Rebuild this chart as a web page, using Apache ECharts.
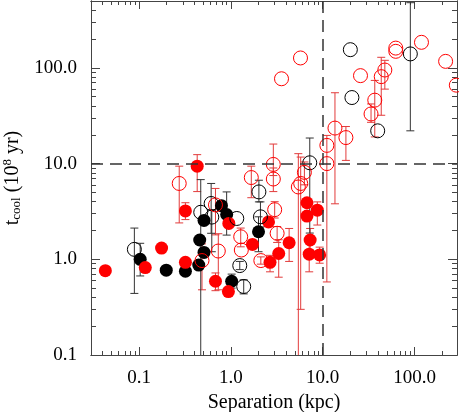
<!DOCTYPE html>
<html>
<head>
<meta charset="utf-8">
<script src="https://cdn.jsdelivr.net/npm/echarts@6/dist/echarts.min.js"></script>
<style>
  html, body { margin: 0; padding: 0; background: #fff; }
  #main { width: 459px; height: 412px; }
</style>
</head>
<body>
<div id="main"></div>
<script>
// axis ticks
const xMajor = [0.1, 1, 10, 100];
const xMinor = [0.03, 0.04, 0.05, 0.06, 0.07, 0.08, 0.09, 0.2, 0.3, 0.4, 0.5, 0.6, 0.7, 0.8, 0.9,
  2, 3, 4, 5, 6, 7, 8, 9, 20, 30, 40, 50, 60, 70, 80, 90, 200];
const yMajor = [0.1, 1, 10, 100];
const yMinor = [0.2, 0.3, 0.4, 0.5, 0.6, 0.7, 0.8, 0.9, 2, 3, 4, 5, 6, 7, 8, 9,
  20, 30, 40, 50, 60, 70, 80, 90, 200, 300, 400];

// red filled circles
const redFilledX  = [0.043, 0.117, 0.176, 0.32, 0.32, 0.43, 0.95, 0.68, 0.94, 1.72, 2.57, 3.32, 2.67, 4.31, 6.74, 6.74, 8.74, 7.3, 7.13, 9.26];
const redFilledY  = [0.76, 0.82, 1.31, 0.93, 3.2, 9.4, 2.37, 0.59, 0.46, 1.43, 2.46, 1.15, 0.93, 1.49, 3.9, 2.83, 3.26, 1.59, 1.13, 1.11];
const redFilledLo = [null, null, null, null, 2.6, 5.1, null, 0.47, null, null, null, 0.65, 0.74, 0.95, null, null, 2.28, 1.2, 0.74, 0.91];
const redFilledHi = [null, null, null, null, 3.9, 12.4, null, 0.72, null, null, null, 1.6, 1.1, 2.1, null, null, 3.98, 2.1, 1.5, 1.34];

// red open circles
const redOpenX  = [0.274, 0.68, 0.485, 0.73, 1.28, 1.3, 1.67, 2.12, 2.9, 2.9, 3.0, 3.19, 5.43, 5.76, 6.32, 11.1, 11.1, 13.6, 17.9,
  3.56, 5.73, 25.8, 33.6, 36.9, 43.4, 47.5, 62.5, 62.5, 119, 218, 285];
const redOpenY  = [6.2, 3.7, 0.97, 1.22, 1.72, 1.25, 7.15, 0.97, 9.8, 6.9, 3.3, 1.87, 5.7, 6.2, 8.1, 15.5, 10.0, 23.5, 18.7,
  77, 127, 83, 33, 46, 81, 95, 161, 149, 185, 117, 66];
const redOpenLo = [2.4, 1.8, 0.48, 0.48, 1.35, null, 4.4, 0.89, 7.5, 5.1, 2.7, 1.5, 0.05, 0.3, 6.0, 0.58, null, 3.8, 10.8,
  null, null, null, 27, 19, 32, 60, null, null, null, null, null];
const redOpenHi = [9.4, 5.5, 1.45, 1.85, 2.12, null, 9.4, 1.06, 16, 9.0, 4.0, 2.2, 12.7, 11.7, 10.4, 19.7, null, 55, 24.4,
  null, null, null, 42, 74, 129, 120, null, null, null, null, null];

// black filled circles
const blackFilledX  = [0.103, 0.198, 0.32, 0.447, 0.458, 0.51, 0.51, 0.79, 0.90, 1.02, 2.0];
const blackFilledY  = [1.0, 0.77, 0.75, 0.87, 1.59, 1.18, 2.55, 3.63, 2.94, 0.59, 1.94];
const blackFilledLo = [0.67, null, null, null, null, null, null, null, 1.79, 0.5, 1.2];
const blackFilledHi = [1.47, null, null, null, null, null, null, null, 5.06, 0.7, 2.78];

// black open circles
const blackOpenX  = [0.089, 0.47, 0.61, 0.62, 1.16, 1.25, 1.38, 2.02, 2.1, 7.23, 20, 20.8, 39.7, 90];
const blackOpenY  = [1.27, 3.1, 3.83, 2.76, 2.67, 0.86, 0.52, 5.06, 2.78, 10.2, 155, 49, 22, 140];
const blackOpenLo = [0.44, 0.05, 1.87, 1.2, null, 0.78, 0.435, 3.98, 2.18, 1.88, null, null, null, 22];
const blackOpenHi = [2.12, 6.8, 6.2, 3.3, null, 0.95, 0.61, 6.7, 3.98, 18.5, null, null, null, 480];

const RED = '#ff0000';
const RED_BAR = '#e23b3b';
const BLACK = '#000000';
const BLACK_BAR = '#333333';
const FONT = 'Liberation Serif';
const AXIS_COLOR = '#444';

function pts(xs, ys) {
  return xs.map((x, i) => [x, ys[i]]);
}
function errs(xs, lo, hi) {
  return xs.map((x, i) => [x, lo[i], hi[i]]).filter(d => d[1] != null);
}

function errorBar(color) {
  return function (params, api) {
    const x = api.value(0);
    const top = api.coord([x, api.value(2)]);
    const bot = api.coord([x, api.value(1)]);
    const cs = params.coordSys;
    const yMin = cs.y, yMax = cs.y + cs.height;
    const w = 4;
    const style = { stroke: color, lineWidth: 1 };
    const kids = [{
      type: 'line',
      shape: { x1: top[0], y1: Math.max(top[1], yMin), x2: top[0], y2: Math.min(bot[1], yMax) },
      style: style
    }];
    if (top[1] >= yMin) kids.push({ type: 'line', shape: { x1: top[0] - w, y1: top[1], x2: top[0] + w, y2: top[1] }, style: style });
    if (bot[1] <= yMax) kids.push({ type: 'line', shape: { x1: bot[0] - w, y1: bot[1], x2: bot[0] + w, y2: bot[1] }, style: style });
    return { type: 'group', children: kids };
  };
}

function logAxis(pos, ticks, len, range, extra) {
  return Object.assign({
    type: 'log',
    logBase: 10,
    position: pos,
    min: range[0],
    max: range[1],
    splitLine: { show: false },
    axisLine: { show: true, lineStyle: { color: AXIS_COLOR, width: 1 } },
    axisTick: { show: true, inside: true, length: len, customValues: ticks, lineStyle: { color: AXIS_COLOR } },
    axisLabel: { show: false },
    minorTick: { show: false }
  }, extra || {});
}

const X_RANGE = [0.03, 290];
const Y_RANGE = [0.1, 500];

let myChart = echarts.init(document.getElementById('main'));
let option = {
  animation: false,
  backgroundColor: '#fff',
  grid: { left: 91, right: 2, top: 1, bottom: 57, outerBoundsMode: 'none', containLabel: false },
  xAxis: [
    logAxis('bottom', xMajor, 8, X_RANGE, {
      name: 'Separation (kpc)',
      nameLocation: 'middle',
      nameGap: 32,
      nameTextStyle: { fontFamily: FONT, fontSize: 20, color: '#000' },
      axisLabel: {
        show: true, customValues: xMajor, margin: 14,
        fontFamily: FONT, fontSize: 19, color: '#000',
        formatter: v => Number(v).toFixed(1)
      }
    }),
    logAxis('bottom', xMinor, 4, X_RANGE),
    logAxis('top', xMajor, 8, X_RANGE),
    logAxis('top', xMinor, 4, X_RANGE)
  ],
  yAxis: [
    logAxis('left', yMajor, 9, Y_RANGE, {
      name: '{a|t}{b|cool}{a| (10}{c|8}{a| yr)}',
      nameLocation: 'middle',
      nameGap: 62,
      nameTextStyle: {
        fontFamily: FONT, fontSize: 20, color: '#000',
        rich: {
          a: { fontFamily: FONT, fontSize: 20, color: '#000' },
          b: { fontFamily: FONT, fontSize: 13, color: '#000', verticalAlign: 'bottom', padding: [9, 0, 0, 0] },
          c: { fontFamily: FONT, fontSize: 13, color: '#000', verticalAlign: 'top', padding: [0, 0, 9, 0] }
        }
      },
      axisLabel: {
        show: true, customValues: yMajor, margin: 14,
        fontFamily: FONT, fontSize: 19, color: '#000',
        formatter: v => Number(v).toFixed(1)
      }
    }),
    logAxis('left', yMinor, 5, Y_RANGE),
    logAxis('right', yMajor, 9, Y_RANGE),
    logAxis('right', yMinor, 5, Y_RANGE)
  ],
  series: [
    {
      type: 'custom', name: 'redOpenErr',
      renderItem: errorBar(RED_BAR),
      data: errs(redOpenX, redOpenLo, redOpenHi),
      z: 1
    },
    {
      type: 'custom', name: 'redFilledErr',
      renderItem: errorBar(RED_BAR),
      data: errs(redFilledX, redFilledLo, redFilledHi),
      z: 1
    },
    {
      type: 'custom', name: 'blackOpenErr',
      renderItem: errorBar(BLACK_BAR),
      data: errs(blackOpenX, blackOpenLo, blackOpenHi),
      z: 1
    },
    {
      type: 'custom', name: 'blackFilledErr',
      renderItem: errorBar(BLACK_BAR),
      data: errs(blackFilledX, blackFilledLo, blackFilledHi),
      z: 1
    },
    {
      type: 'scatter', name: 'blackFilled',
      symbol: 'circle', symbolSize: 13,
      itemStyle: { color: BLACK, opacity: 1 },
      data: pts(blackFilledX, blackFilledY),
      z: 2
    },
    {
      type: 'scatter', name: 'redFilled',
      symbol: 'circle', symbolSize: 13,
      itemStyle: { color: RED, opacity: 1 },
      data: pts(redFilledX, redFilledY),
      z: 2
    },
    {
      type: 'scatter', name: 'blackOpen',
      symbol: 'circle', symbolSize: 14,
      itemStyle: { color: 'rgba(0,0,0,0)', borderColor: BLACK, borderWidth: 1, opacity: 1 },
      data: pts(blackOpenX, blackOpenY),
      z: 3
    },
    {
      type: 'scatter', name: 'redOpen',
      symbol: 'circle', symbolSize: 14,
      itemStyle: { color: 'rgba(0,0,0,0)', borderColor: RED, borderWidth: 1, opacity: 1 },
      data: pts(redOpenX, redOpenY),
      z: 3,
      markLine: {
        silent: true,
        symbol: 'none',
        label: { show: false },
        lineStyle: { color: '#333', width: 1.5, type: [12, 7] },
        data: [{ xAxis: 10 }, { yAxis: 10 }]
      }
    }
  ]
};
myChart.setOption(option);
</script>
</body>
</html>
